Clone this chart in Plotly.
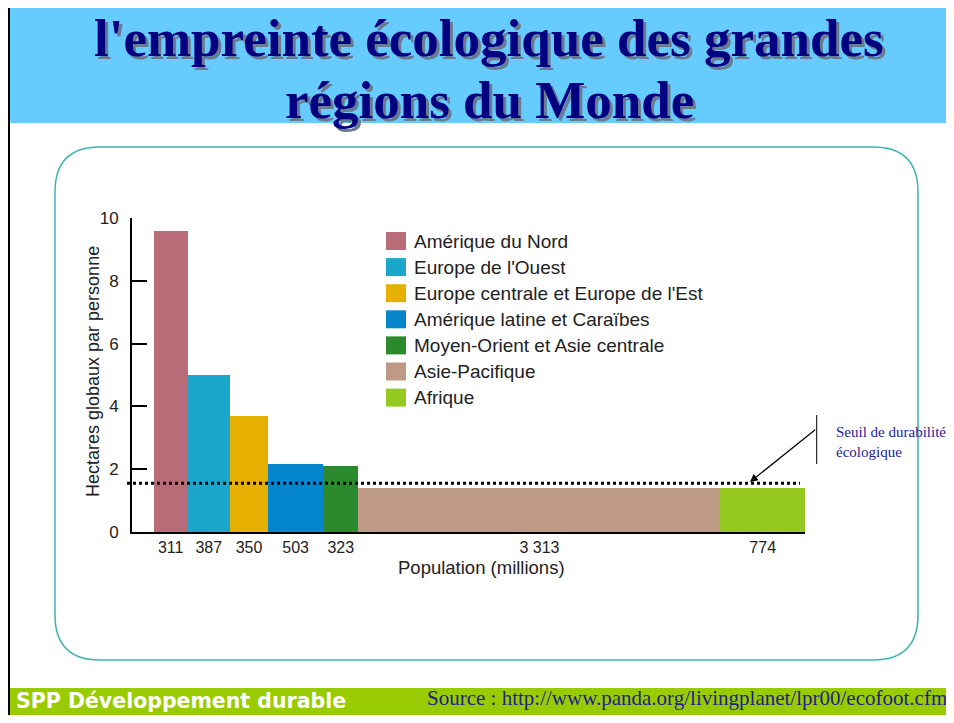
import plotly.graph_objects as go

# ---- data ----
regions = ["Amérique du Nord", "Europe de l'Ouest", "Europe centrale et Europe de l'Est",
           "Amérique latine et Caraïbes", "Moyen-Orient et Asie centrale", "Asie-Pacifique", "Afrique"]
population = [311, 387, 350, 503, 323, 3313, 774]          # millions (bar widths)
footprint = [9.6, 5.0, 3.7, 2.15, 2.1, 1.4, 1.4]             # hectares globaux par personne
pop_labels = ["311", "387", "350", "503", "323", "3 313", "774"]
colors = ["#B86C78", "#1AA7CB", "#E5B000", "#0585CC", "#2B8A2B", "#BE9986", "#95C91F"]
threshold = 1.55

# ---- layout geometry (reference pixels; page body adds an 8px margin) ----
OFF = 8
W, H = 954 - 2 * OFF, 723 - 2 * OFF
L, R, T, B = 132, 805, 218, 532
PW, PH = R - L, B - T


def X(px):
    return (px - L) / PW


def Y(py):
    return (B - py) / PH


centers = []
acc = 0
for p in population:
    centers.append(acc + p / 2)
    acc += p

fig = go.Figure()
fig.add_trace(go.Bar(
    x=centers, y=footprint, width=population, base=0,
    marker=dict(color=colors, line=dict(width=0)),
    showlegend=False, hovertext=regions,
))

shapes = []
# header band
shapes.append(dict(type="rect", xref="paper", yref="paper", x0=X(8), x1=X(954), y0=Y(2), y1=Y(123),
                   fillcolor="#66CCFF", line=dict(width=0), layer="below"))
# footer band
shapes.append(dict(type="rect", xref="paper", yref="paper", x0=X(8), x1=X(954), y0=Y(688), y1=Y(721),
                   fillcolor="#99CC00", line=dict(width=0), layer="below"))
# frame lines
shapes.append(dict(type="line", xref="paper", yref="paper", x0=X(9), x1=X(9), y0=Y(0), y1=Y(723),
                   line=dict(color="black", width=2)))
shapes.append(dict(type="line", xref="paper", yref="paper", x0=X(8), x1=X(954), y0=Y(1), y1=Y(1),
                   line=dict(color="black", width=2)))

# rounded rectangle
x0, x1, y0, y1, r = 55, 918, 147, 660, 45
path = (f"M {X(x0 + r)},{Y(y0)} L {X(x1 - r)},{Y(y0)} Q {X(x1)},{Y(y0)} {X(x1)},{Y(y0 + r)} "
        f"L {X(x1)},{Y(y1 - r)} Q {X(x1)},{Y(y1)} {X(x1 - r)},{Y(y1)} "
        f"L {X(x0 + r)},{Y(y1)} Q {X(x0)},{Y(y1)} {X(x0)},{Y(y1 - r)} "
        f"L {X(x0)},{Y(y0 + r)} Q {X(x0)},{Y(y0)} {X(x0 + r)},{Y(y0)} Z")
shapes.append(dict(type="path", xref="paper", yref="paper", path=path,
                   line=dict(color="#3FB3B3", width=1.5), fillcolor="rgba(0,0,0,0)", layer="below"))

# threshold dotted line
shapes.append(dict(type="line", xref="paper", yref="y", x0=X(127), x1=X(800), y0=threshold, y1=threshold,
                   line=dict(color="black", width=3, dash="dot")))
# annotation vertical bar
shapes.append(dict(type="line", xref="paper", yref="paper", x0=X(816.7), x1=X(816.7), y0=Y(415), y1=Y(464),
                   line=dict(color="black", width=1)))

annotations = []
# legend (manual)
for i, (name, c) in enumerate(zip(regions, colors)):
    cy = 241 + i * 26.1
    shapes.append(dict(type="rect", xref="paper", yref="paper", x0=X(386), x1=X(406),
                       y0=Y(cy - 9), y1=Y(cy + 9), fillcolor=c, line=dict(width=0)))
    annotations.append(dict(xref="paper", yref="paper", x=X(412), y=Y(cy), text=name, showarrow=False,
                            xanchor="left", yanchor="middle",
                            font=dict(family="Liberation Sans, Arial", size=19, color="#222222")))

# title with shadow
title_lines = [("l'empreinte écologique des grandes", 38), ("régions du Monde", 100)]
for txt, cy in title_lines:
    annotations.append(dict(xref="paper", yref="paper", x=X(489), y=Y(cy), text=f"<b>{txt}</b>",
                            showarrow=False, xanchor="center", yanchor="middle",
                            font=dict(family="Liberation Serif, Times New Roman", size=53, color="#000080",
                                      shadow="3px 3px 0px #6A7A90")))

# axis titles
annotations.append(dict(xref="paper", yref="paper", x=X(481), y=Y(567), text="Population (millions)",
                        showarrow=False, xanchor="center", yanchor="middle",
                        font=dict(family="Liberation Sans, Arial", size=18.5, color="#222222")))
annotations.append(dict(xref="paper", yref="paper", x=X(93), y=Y(372), text="Hectares globaux par personne",
                        showarrow=False, xanchor="center", yanchor="middle", textangle=-90,
                        font=dict(family="Liberation Sans, Arial", size=18, color="#222222")))

# threshold label + arrow
annotations.append(dict(xref="paper", yref="paper", x=X(750), y=Y(482), ax=66.7, ay=-53.4, text="",
                        showarrow=True, arrowhead=2, arrowsize=1.3, arrowwidth=1.2, arrowcolor="black",
                        standoff=0))
annotations.append(dict(xref="paper", yref="paper", x=X(834), y=Y(442),
                        text="Seuil de durabilité<br>écologique", showarrow=False, xanchor="left",
                        yanchor="middle", align="left",
                        font=dict(family="Liberation Serif, Times New Roman", size=15, color="#23239A")))

# footer texts
annotations.append(dict(xref="paper", yref="paper", x=X(14), y=Y(701), text="<b>SPP Développement durable</b>",
                        showarrow=False, xanchor="left", yanchor="middle",
                        font=dict(family="DejaVu Sans, Verdana", size=20.5, color="white")))
annotations.append(dict(xref="paper", yref="paper", x=X(425), y=Y(698),
                        text="Source : http://www.panda.org/livingplanet/lpr00/ecofoot.cfm",
                        showarrow=False, xanchor="left", yanchor="middle",
                        font=dict(family="Liberation Serif, Times New Roman", size=21, color="#1F1F8F")))

fig.update_layout(
    width=W, height=H,
    margin=dict(l=L - OFF, r=W - (R - OFF), t=T - OFF, b=H - (B - OFF), pad=0),
    paper_bgcolor="white", plot_bgcolor="rgba(0,0,0,0)",
    shapes=shapes, annotations=annotations,
    bargap=0,
    xaxis=dict(range=[-198, sum(population)], tickvals=centers, ticktext=pop_labels, ticks="",
               showgrid=False, zeroline=False, showline=True, linecolor="black", linewidth=2,
               tickfont=dict(family="Liberation Sans, Arial", size=16, color="#222222"), fixedrange=True),
    yaxis=dict(range=[0, 10], tickvals=[0, 2, 4, 6, 8, 10], ticks="inside", ticklen=15, tickwidth=2,
               tickcolor="black", showgrid=False, zeroline=False, showline=True, linecolor="black",
               linewidth=2, ticklabelstandoff=8,
               tickfont=dict(family="Liberation Sans, Arial", size=17, color="#222222"), fixedrange=True),
)

fig.write_html("out.html")
